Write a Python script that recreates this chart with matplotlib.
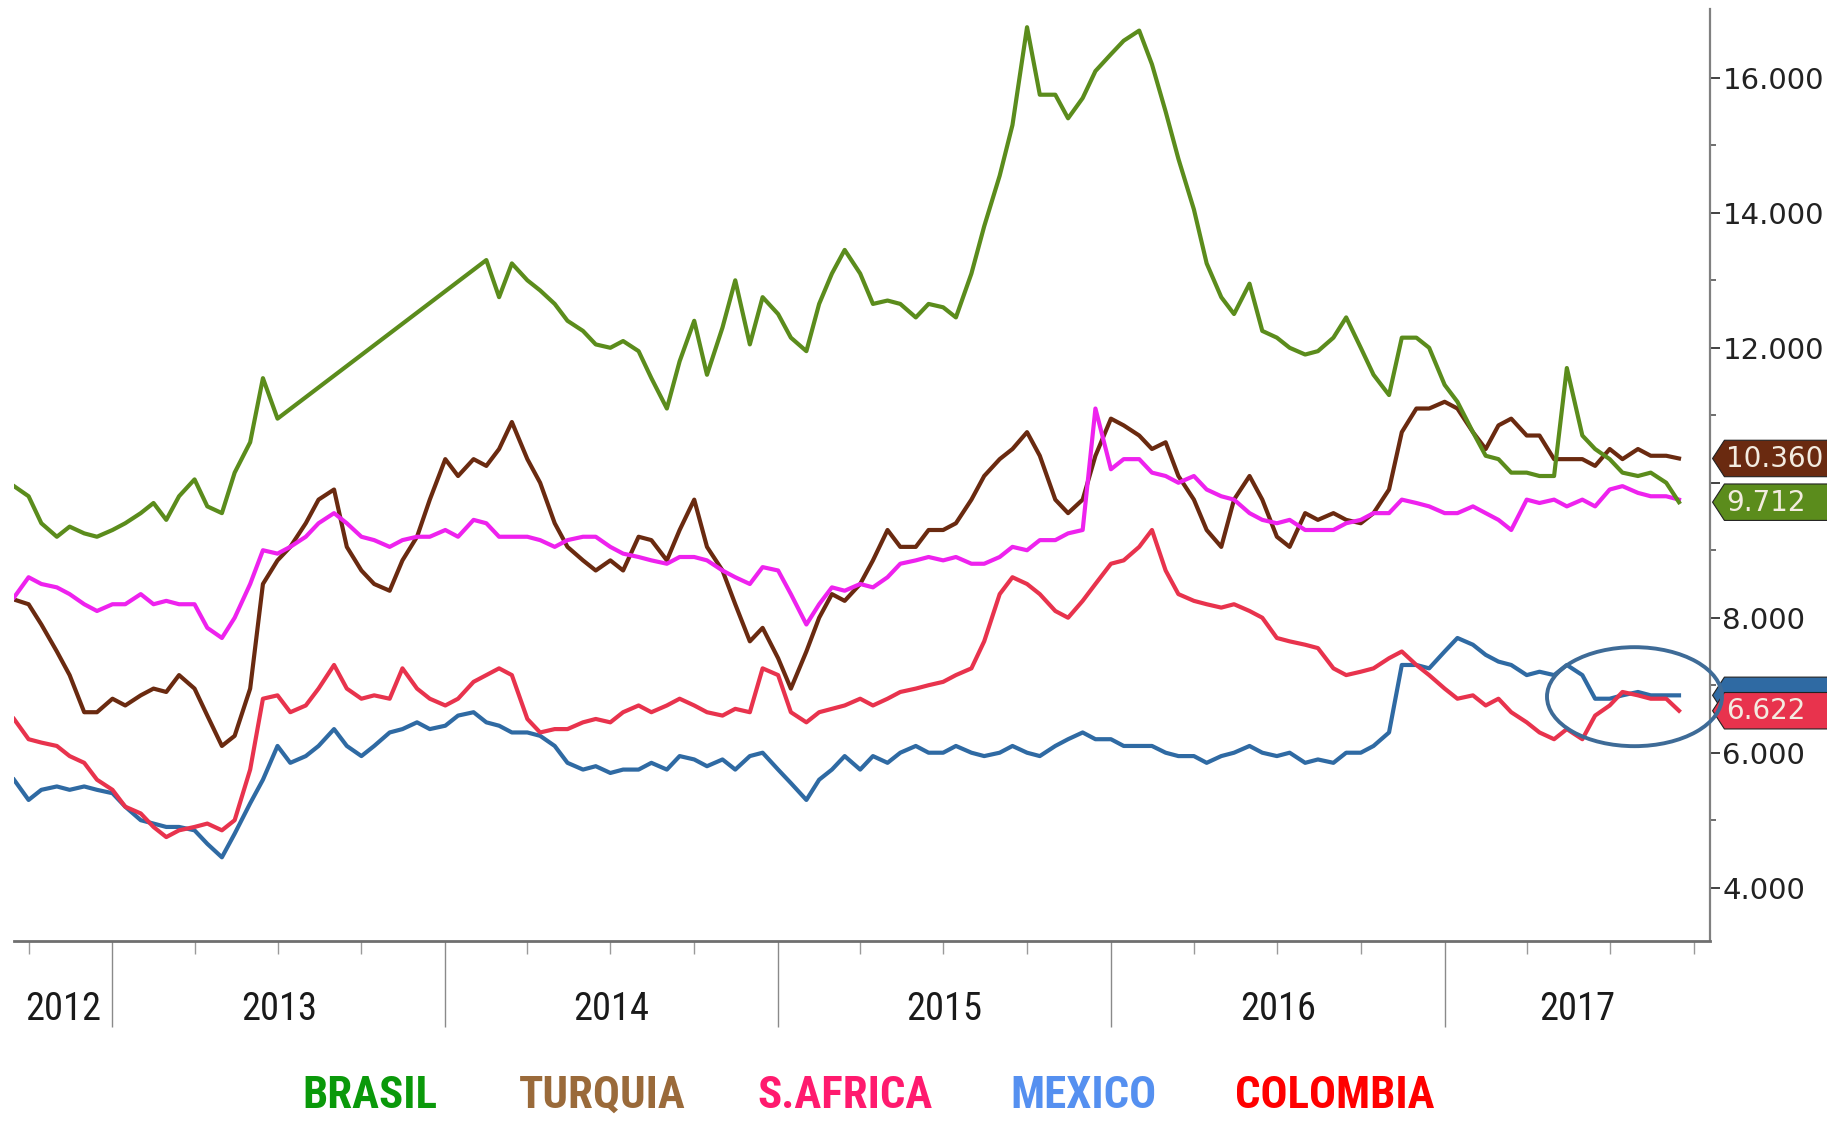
import numpy as np
import pandas as pd
import matplotlib
matplotlib.use("Agg")
import matplotlib.pyplot as plt
import matplotlib.dates as mdates
import matplotlib.font_manager as fm
from matplotlib.patches import Polygon, Ellipse
from matplotlib.transforms import blended_transform_factory

# ---------------- data (semi-monthly readings) ----------------
dates = pd.date_range("2012-09-15", periods=121, freq="SMS")

nan = np.nan
brasil = [9.95, 9.8, 9.4, 9.2, 9.35, 9.25, 9.2, 9.3, 9.4, 9.55,
          9.7, 9.45, 9.8, 10.05, 9.65, 9.55, 10.15, 10.6, 11.55, 10.95,
          nan, nan, nan, nan, nan, nan, nan, nan, nan, nan,
          nan, nan, nan, nan, 13.3, 12.75, 13.25, 13.0, 12.85, 12.65,
          12.4, 12.25, 12.05, 12.0, 12.1, 11.95, 11.55, 11.1, 11.8, 12.4,
          11.6, 12.3, 13.0, 12.05, 12.75, 12.5, 12.15, 11.95, 12.65, 13.1,
          13.45, 13.1, 12.65, 12.7, 12.65, 12.45, 12.65, 12.6, 12.45, 13.1,
          13.8, 14.55, 15.3, 16.75, 15.75, 15.75, 15.4, 15.7, 16.1, 16.35,
          16.55, 16.7, 16.2, 15.5, 14.8, 14.05, 13.25, 12.75, 12.5, 12.95,
          12.25, 12.15, 12.0, 11.9, 11.95, 12.15, 12.45, 12.0, 11.6, 11.3,
          12.15, 12.15, 12.0, 11.45, 11.2, 10.75, 10.4, 10.35, 10.15, 10.15,
          10.1, 10.1, 11.7, 10.7, 10.5, 10.35, 10.15, 10.1, 10.15, 10.0,
          9.712]

turquia = [8.27, 8.2, 7.9, 7.5, 7.15, 6.6, 6.6, 6.8, 6.7, 6.85,
           6.95, 6.9, 7.15, 6.95, 6.55, 6.1, 6.25, 6.95, 8.5, 8.85,
           9.05, 9.4, 9.75, 9.9, 9.05, 8.7, 8.5, 8.4, 8.85, 9.2,
           9.75, 10.35, 10.1, 10.35, 10.25, 10.5, 10.9, 10.35, 10.0, 9.4,
           9.05, 8.85, 8.7, 8.85, 8.7, 9.2, 9.15, 8.85, 9.3, 9.75,
           9.05, 8.7, 8.2, 7.65, 7.85, 7.4, 6.95, 7.5, 8.0, 8.35,
           8.25, 8.5, 8.85, 9.3, 9.05, 9.05, 9.3, 9.3, 9.4, 9.75,
           10.1, 10.35, 10.5, 10.75, 10.4, 9.75, 9.55, 9.75, 10.4, 10.95,
           10.85, 10.7, 10.5, 10.6, 10.1, 9.75, 9.3, 9.05, 9.75, 10.1,
           9.75, 9.2, 9.05, 9.55, 9.45, 9.55, 9.45, 9.4, 9.55, 9.9,
           10.75, 11.1, 11.1, 11.2, 11.1, 10.75, 10.5, 10.85, 10.95, 10.7,
           10.7, 10.35, 10.35, 10.35, 10.25, 10.5, 10.35, 10.5, 10.4, 10.4,
           10.36]

safrica = [8.3, 8.6, 8.5, 8.45, 8.35, 8.2, 8.1, 8.2, 8.2, 8.35,
           8.2, 8.25, 8.2, 8.2, 7.85, 7.7, 8.0, 8.5, 9.0, 8.95,
           9.05, 9.2, 9.4, 9.55, 9.4, 9.2, 9.15, 9.05, 9.15, 9.2,
           9.2, 9.3, 9.2, 9.45, 9.4, 9.2, 9.2, 9.2, 9.15, 9.05,
           9.15, 9.2, 9.2, 9.05, 8.95, 8.9, 8.85, 8.8, 8.9, 8.9,
           8.85, 8.7, 8.6, 8.5, 8.75, 8.7, 8.35, 7.9, 8.2, 8.45,
           8.4, 8.5, 8.45, 8.6, 8.8, 8.85, 8.9, 8.85, 8.9, 8.8,
           8.8, 8.9, 9.05, 9.0, 9.15, 9.15, 9.25, 9.3, 11.1, 10.2,
           10.35, 10.35, 10.15, 10.1, 10.0, 10.1, 9.9, 9.8, 9.75, 9.55,
           9.45, 9.4, 9.45, 9.3, 9.3, 9.3, 9.4, 9.45, 9.55, 9.55,
           9.75, 9.7, 9.65, 9.55, 9.55, 9.65, 9.55, 9.45, 9.3, 9.75,
           9.7, 9.75, 9.65, 9.75, 9.65, 9.9, 9.95, 9.85, 9.8, 9.8,
           9.75]

mexico = [5.6, 5.3, 5.45, 5.5, 5.45, 5.5, 5.45, 5.4, 5.2, 5.0,
          4.95, 4.9, 4.9, 4.85, 4.65, 4.45, 4.8, 5.25, 5.6, 6.1,
          5.85, 5.95, 6.1, 6.35, 6.1, 5.95, 6.1, 6.3, 6.35, 6.45,
          6.35, 6.4, 6.55, 6.6, 6.45, 6.4, 6.3, 6.3, 6.25, 6.1,
          5.85, 5.75, 5.8, 5.7, 5.75, 5.75, 5.85, 5.75, 5.95, 5.9,
          5.8, 5.9, 5.75, 5.95, 6.0, 5.75, 5.55, 5.3, 5.6, 5.75,
          5.95, 5.75, 5.95, 5.85, 6.0, 6.1, 6.0, 6.0, 6.1, 6.0,
          5.95, 6.0, 6.1, 6.0, 5.95, 6.1, 6.2, 6.3, 6.2, 6.2,
          6.1, 6.1, 6.1, 6.0, 5.95, 5.95, 5.85, 5.95, 6.0, 6.1,
          6.0, 5.95, 6.0, 5.85, 5.9, 5.85, 6.0, 6.0, 6.1, 6.3,
          7.3, 7.3, 7.25, 7.5, 7.7, 7.6, 7.45, 7.35, 7.3, 7.15,
          7.2, 7.15, 7.3, 7.15, 6.8, 6.8, 6.85, 6.9, 6.85, 6.85,
          6.85]

colombia = [6.5, 6.2, 6.15, 6.1, 5.95, 5.85, 5.6, 5.45, 5.2, 5.1,
            4.9, 4.75, 4.85, 4.9, 4.95, 4.85, 5.0, 5.75, 6.8, 6.85,
            6.6, 6.7, 6.95, 7.3, 6.95, 6.8, 6.85, 6.8, 7.25, 6.95,
            6.8, 6.7, 6.8, 7.05, 7.15, 7.25, 7.15, 6.5, 6.3, 6.35,
            6.35, 6.45, 6.5, 6.45, 6.6, 6.7, 6.6, 6.7, 6.8, 6.7,
            6.6, 6.55, 6.65, 6.6, 7.25, 7.15, 6.6, 6.45, 6.6, 6.65,
            6.7, 6.8, 6.7, 6.8, 6.9, 6.95, 7.0, 7.05, 7.15, 7.25,
            7.65, 8.35, 8.6, 8.5, 8.35, 8.1, 8.0, 8.25, 8.5, 8.8,
            8.85, 9.05, 9.3, 8.7, 8.35, 8.25, 8.2, 8.15, 8.2, 8.1,
            8.0, 7.7, 7.65, 7.6, 7.55, 7.25, 7.15, 7.2, 7.25, 7.4,
            7.5, 7.3, 7.15, 6.95, 6.8, 6.85, 6.7, 6.8, 6.6, 6.45,
            6.3, 6.2, 6.35, 6.2, 6.55, 6.7, 6.9, 6.85, 6.8, 6.8,
            6.622]

series_names = ["BRASIL", "TURQUIA", "S.AFRICA", "MEXICO", "COLOMBIA"]
line_colors = ["#5b8c1c", "#6a2a10", "#ee22ee", "#2f6aa3", "#e8334d"]
legend_colors = ["#0a990a", "#9a6a3a", "#ff1a6e", "#5590f0", "#ff0000"]
y_ticks = [4, 6, 8, 10, 12, 14, 16]
year_labels = ["2012", "2013", "2014", "2015", "2016", "2017"]


def pick_family(cands):
    for f in cands:
        try:
            fm.findfont(fm.FontProperties(family=f), fallback_to_default=False)
            return f
        except Exception:
            pass
    return "DejaVu Sans"


narrow = pick_family(["Liberation Sans Narrow", "Roboto Condensed",
                      "Open Sans Condensed", "Noto Sans Condensed",
                      "Liberation Sans", "Roboto"])

# ---------------- figure ----------------
W, H = 1827, 1123
fig = plt.figure(figsize=(W / 100, H / 100), dpi=100)
fig.patch.set_facecolor("white")
ax_l, ax_r, ax_t, ax_b = 14, 1710, 9, 941
ax = fig.add_axes([ax_l / W, 1 - ax_b / H, (ax_r - ax_l) / W, (ax_b - ax_t) / H])

all_series = [brasil, turquia, safrica, mexico, colombia]
order = [3, 4, 1, 2, 0]
for z, k in enumerate(order):
    vals = np.array(all_series[k], dtype=float)
    m = np.isfinite(vals)
    ax.plot(dates[m], vals[m], color=line_colors[k], lw=3.0,
            solid_joinstyle="round", zorder=3 + z)

x0 = pd.Timestamp("2012-09-15")
x1 = pd.Timestamp("2017-10-19")
ax.set_xlim(x0, x1)
ax.set_ylim(3.21, 17.02)

for s in ["top", "left"]:
    ax.spines[s].set_visible(False)
ax.spines["bottom"].set_color("#6f6f6f")
ax.spines["bottom"].set_linewidth(2.0)
ax.spines["right"].set_color("#808080")
ax.spines["right"].set_linewidth(1.6)

# y axis on the right (the 10.000 label sits under the value tags)
ax.yaxis.tick_right()
ax.set_yticks(y_ticks)
ax.set_yticklabels(["" if v == 10 else f"{v:.3f}" for v in y_ticks])
ax.set_yticks([5, 7, 9, 11, 13, 15], minor=True)
ax.tick_params(axis="y", which="major", direction="out", length=7, width=1.3,
               color="#333333", pad=2, labelsize=21, labelcolor="#222222")
ax.tick_params(axis="y", which="minor", direction="out", length=4, width=1.2,
               color="#555555")

# x axis: year boundaries (long ticks) and quarters (short ticks)
years = [pd.Timestamp(f"{y}-01-01") for y in range(2013, 2018)]
quarters = [d for d in pd.date_range("2012-10-01", "2017-10-01", freq="QS")
            if d.month != 1]
ax.set_xticks(years)
ax.set_xticklabels([""] * len(years))
ax.set_xticks(quarters, minor=True)
ax.tick_params(axis="x", which="major", direction="out", length=62, width=1.0,
               color="#8a8a8a")
ax.tick_params(axis="x", which="minor", direction="out", length=9, width=1.0,
               color="#9a9a9a")
ax.xaxis.set_minor_formatter(matplotlib.ticker.NullFormatter())

bt = blended_transform_factory(ax.transData, ax.transAxes)
bounds = [x0] + years + [x1]
year_texts = []
for i, lab in enumerate(year_labels):
    a, b = mdates.date2num(bounds[i]), mdates.date2num(bounds[i + 1])
    t = ax.text((a + b) / 2, -0.073, lab, transform=bt, ha="center",
                va="center", fontsize=26, color="#1a1a1a", family=narrow)
    year_texts.append(t)

# value tags at the right axis
tt = blended_transform_factory(ax.transAxes, ax.transData)
tag_specs = [(mexico[-1], "#2f6aa3", None),
             (turquia[-1], "#6a2a10", "#f3ece0"),
             (brasil[-1], "#5b8c1c", "#f3ece0"),
             (colombia[-1], "#e8334d", "#f3ece0")]
hh = 0.27
for val, col, tcol in tag_specs:
    poly = Polygon([(1.0015, val), (1.0085, val + hh), (1.2, val + hh),
                    (1.2, val - hh), (1.0085, val - hh)], closed=True,
                   transform=tt, facecolor=col, edgecolor="#222222", lw=0.8,
                   clip_on=False, zorder=20)
    ax.add_patch(poly)
    if tcol:
        ax.text(1.0095, val - 0.01, f"{val:.3f}", transform=tt, ha="left",
                va="center", fontsize=20, color=tcol, zorder=21, clip_on=False)

# highlight ellipse
ell = Ellipse((1403 * 1.165 / W, 1 - 598 * 1.165 / H), 175 / W, 99 / H,
              transform=fig.transFigure, facecolor="none", edgecolor="#3e6b97",
              lw=2.8, zorder=30, clip_on=False)
fig.patches.append(ell)

# colored legend labels
leg_x = [370, 602, 845, 1083, 1335]
leg_texts = []
for name, col, xc in zip(series_names, legend_colors, leg_x):
    t = fig.text(xc / W, 1 - 1096 / H, name, ha="center", va="center",
                 fontsize=32, fontweight="bold", color=col, family=narrow)
    leg_texts.append(t)

# fit text sizes to the reference widths (pixels)
fig.canvas.draw()
r = fig.canvas.get_renderer()
w_year = year_texts[1].get_window_extent(r).width
scale_y = min(76.0 / w_year, 1.5)
for t in year_texts:
    t.set_fontsize(26 * scale_y)
w_leg = leg_texts[0].get_window_extent(r).width
scale_l = min(135.0 / w_leg, 1.45)
for t in leg_texts:
    t.set_fontsize(32 * scale_l)

fig.savefig("out.png", dpi=100, facecolor="white")
